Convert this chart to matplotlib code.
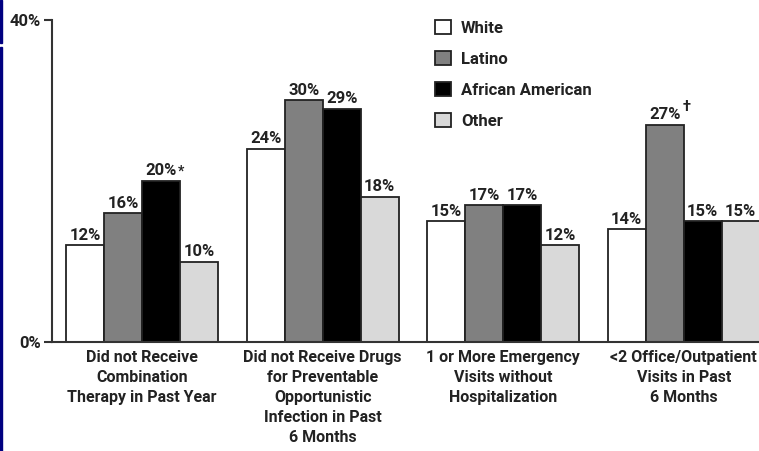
import matplotlib
matplotlib.use("Agg")
import matplotlib.pyplot as plt
import numpy as np
from matplotlib.patches import Rectangle

# data
groups = [
    "Did not Receive\nCombination\nTherapy in Past Year",
    "Did not Receive Drugs\nfor Preventable\nOpportunistic\nInfection in Past\n6 Months",
    "1 or More Emergency\nVisits without\nHospitalization",
    "<2 Office/Outpatient\nVisits in Past\n6 Months",
]
series = ["White", "Latino", "African American", "Other"]
white = [12, 24, 15, 14]
latino = [16, 30, 17, 27]
african_american = [20, 29, 17, 15]
other = [10, 18, 12, 15]
marks = {(0, 2): "*", (3, 1): "\u2020"}  # significance markers (group, series)

colors = ["#ffffff", "#808080", "#000000", "#d9d9d9"]
ink = "#222222"
plt.rcParams["font.family"] = ["Roboto", "DejaVu Sans"]
plt.rcParams["font.weight"] = "bold"

fig = plt.figure(figsize=(7.59, 4.51), dpi=100)
ax = fig.add_axes([52 / 759, 1 - 342 / 451, 1 - 52 / 759, 322 / 451])

values = [white, latino, african_american, other]
width = 1.0
step = 4.75
centers = 2.37 + np.arange(len(groups)) * step
for j, (name, vals, col) in enumerate(zip(series, values, colors)):
    xs = centers + (j - 1.5) * width
    ax.bar(xs, vals, width=width, color=col, edgecolor=ink,
           linewidth=1.3, label=name)
    for i, (x, v) in enumerate(zip(xs, vals)):
        ax.text(x, v + 0.7, f"{v}%", ha="center", va="baseline",
                fontsize=12, color=ink)
        if (i, j) in marks:
            if marks[(i, j)] == "*":
                ax.text(x + 0.45, v + 0.7, "*", ha="left", va="baseline",
                        fontsize=10, color=ink)
            else:
                ax.text(x + 0.47, v + 1.7, "\u2020", ha="left", va="baseline",
                        fontsize=10.5, color=ink)

ax.set_xlim(0, 18.6)
ax.set_ylim(0, 40)
ax.set_yticks([0, 40])
ax.set_yticklabels(["0%", "40%"])
ax.set_xticks(centers)
ax.set_xticklabels(groups, fontsize=11.5, color=ink, linespacing=1.4, va="top")
ax.tick_params(axis="x", length=0, pad=6)
ax.tick_params(axis="y", length=6, width=1.5, color="#333333", labelsize=12,
               labelcolor=ink, pad=2)
for side in ["top", "right"]:
    ax.spines[side].set_visible(False)
for side in ["left", "bottom"]:
    ax.spines[side].set_linewidth(1.5)
    ax.spines[side].set_color("#333333")

leg = ax.legend(loc="upper left", bbox_to_anchor=(0.521, 1.047), frameon=False,
                fontsize=12, handlelength=0.95, handleheight=0.95,
                labelspacing=0.9, handletextpad=0.6)
for t in leg.get_texts():
    t.set_color(ink)

# blue strip at the left edge of the slide
fig.add_artist(Rectangle((0, 1 - 43 / 451), 2 / 759, 43 / 451,
                         transform=fig.transFigure, color="#000080"))
fig.add_artist(Rectangle((0, 0), 2 / 759, 1 - 47 / 451,
                         transform=fig.transFigure, color="#000080"))

fig.savefig("out.png", dpi=100)
